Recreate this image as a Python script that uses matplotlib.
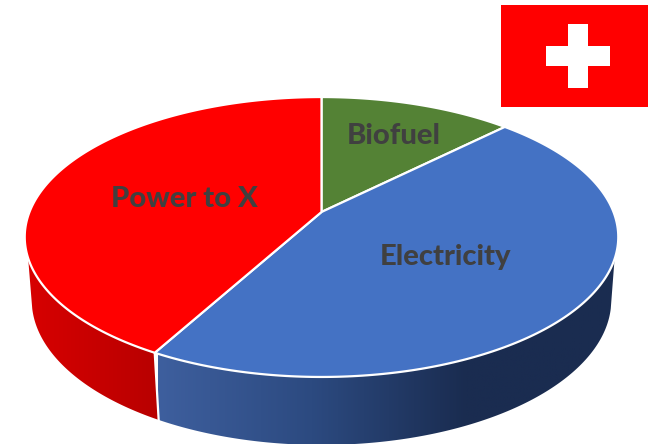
import numpy as np
import matplotlib
matplotlib.use("Agg")
import matplotlib.pyplot as plt
from matplotlib.colors import LinearSegmentedColormap
from matplotlib.patches import Polygon, Rectangle

# shares of the pie (percent, clockwise from the top)
labels = ["Biofuel", "Electricity", "Power to X"]
values = [12.5, 45.5, 42.0]

top_colors = ["#548235", "#4472C4", "#FF0000"]
label_pos = [(394, 136), (445, 257), (184, 199)]

# pie geometry in pixels
cx, cy = 321.5, 212
a, b, k = 292, 135.5, 0.1786


def rim(theta):
    # perspective view of the unit circle, theta clockwise from the back
    w = 1 + k * np.cos(theta)
    return cx + a * np.sin(theta) / w, cy - b * np.cos(theta) / w


def low_rim(theta):
    x, y = rim(theta)
    return cx + (x - cx) * 290 / 297, 300 + (y - 237) * 145 / 140


def wall(ax, t0, t1, colors, x0, x1):
    t = np.linspace(t0, t1, 300)
    xt, yt = rim(t)
    xl, yl = low_rim(t)
    top = np.column_stack([xt, yt])[yt >= 258]
    low = np.column_stack([xl, yl])[yl >= 308]
    poly = Polygon(np.vstack([top, low[::-1]]), closed=True, transform=ax.transData,
                   fc="none", ec="none")
    ax.add_patch(poly)
    cmap = LinearSegmentedColormap.from_list("w", colors)
    im = ax.imshow(np.linspace(0, 1, 256)[None, :], cmap=cmap, aspect="auto",
                   extent=(x0, x1, 450, 250), zorder=1)
    im.set_clip_path(poly)


fig = plt.figure(figsize=(6.49, 4.44), dpi=100)
ax = fig.add_axes([0, 0, 1, 1])

edges = np.deg2rad(np.cumsum([0] + values) * 3.6)

# side walls
wall(ax, edges[1], edges[2], ["#3E5F9E", "#2C4A80", "#1A2C50", "#1A2C50"], 158, 620)
wall(ax, edges[2], edges[3], ["#D80000", "#B80000"], 25, 159)

# separator on the wall
xs, ys = rim(edges[2])
xe, ye = low_rim(edges[2])
ax.plot([xs, xe], [ys, ye], color="white", lw=1.6, zorder=2)

# top of the pie
for i in range(len(values)):
    t = np.linspace(edges[i], edges[i + 1], 200)
    x, y = rim(t)
    pts = np.vstack([[cx, cy], np.column_stack([x, y])])
    ax.add_patch(Polygon(pts, closed=True, fc=top_colors[i], ec="white", lw=1.6,
                         joinstyle="round", zorder=3))

for name, (tx, ty) in zip(labels, label_pos):
    ax.text(tx, ty, name, ha="center", va="center", fontsize=21, fontweight="black",
            family="Lato", color="#404040", zorder=4)

# flag
ax.add_patch(Rectangle((501, 5), 147, 102, fc="#FF0000", ec="none", zorder=5))
ax.add_patch(Rectangle((546, 46), 64, 20, fc="white", ec="none", zorder=6))
ax.add_patch(Rectangle((568, 24), 20, 64, fc="white", ec="none", zorder=6))

ax.set_xlim(0, 649)
ax.set_ylim(444, 0)
ax.axis("off")

fig.savefig("out.png", dpi=100)
